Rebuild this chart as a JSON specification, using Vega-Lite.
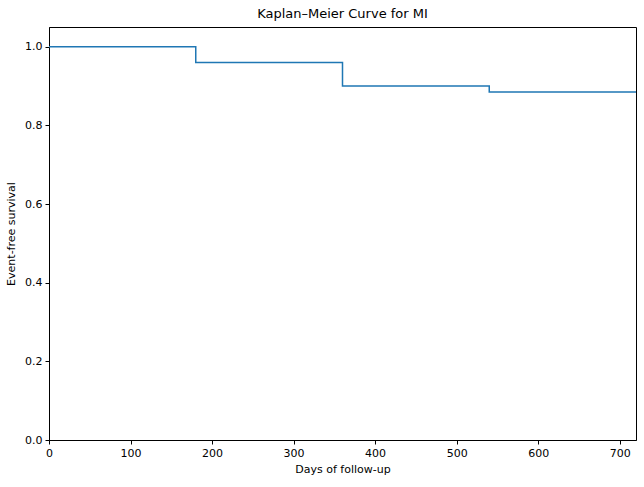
{
  "$schema": "https://vega.github.io/schema/vega-lite/v6.json",
  "width": 587,
  "height": 413,
  "autosize": {"type": "none"},
  "padding": {"left": 49, "top": 27, "right": 8, "bottom": 47},
  "background": "white",
  "title": {
    "text": "Kaplan–Meier Curve for MI",
    "font": "DejaVu Sans",
    "fontSize": 13,
    "fontWeight": "normal",
    "color": "black",
    "offset": 6
  },
  "data": {
    "values": [
      {"day": 0, "survival": 1.0},
      {"day": 180, "survival": 0.96},
      {"day": 360, "survival": 0.9},
      {"day": 540, "survival": 0.885},
      {"day": 720, "survival": 0.885}
    ]
  },
  "mark": {
    "type": "line",
    "interpolate": "step-after",
    "color": "#1f77b4",
    "strokeWidth": 1.5,
    "clip": true
  },
  "encoding": {
    "x": {
      "field": "day",
      "type": "quantitative",
      "title": "Days of follow-up",
      "scale": {"domain": [0, 720], "nice": false, "zero": false},
      "axis": {"values": [0, 100, 200, 300, 400, 500, 600, 700]}
    },
    "y": {
      "field": "survival",
      "type": "quantitative",
      "title": "Event-free survival",
      "scale": {"domain": [0, 1.05], "nice": false},
      "axis": {"values": [0, 0.2, 0.4, 0.6, 0.8, 1.0], "format": ".1f"}
    }
  },
  "config": {
    "view": {"stroke": "black", "strokeWidth": 1},
    "axis": {
      "grid": false,
      "domainColor": "black",
      "tickColor": "black",
      "tickSize": 4,
      "labelFont": "DejaVu Sans",
      "labelFontSize": 11,
      "labelColor": "black",
      "labelPadding": 3,
      "titleFont": "DejaVu Sans",
      "titleFontSize": 11,
      "titleFontWeight": "normal",
      "titleColor": "black"
    },
    "axisX": {"titlePadding": 5, "labelFlush": false},
    "axisY": {"titlePadding": 8, "labelFlush": false}
  }
}
